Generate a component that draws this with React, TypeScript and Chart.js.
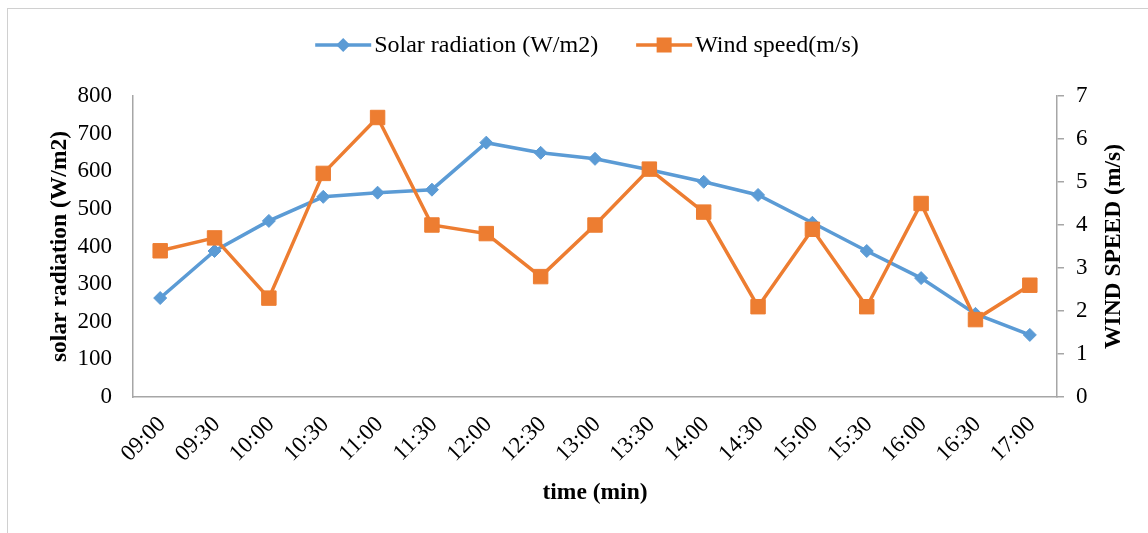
import { useEffect, useRef } from "react";
import { Chart, registerables } from "chart.js";

Chart.register(...registerables);

// Half-hourly readings
const times = [
  "09:00", "09:30", "10:00", "10:30", "11:00", "11:30", "12:00", "12:30", "13:00",
  "13:30", "14:00", "14:30", "15:00", "15:30", "16:00", "16:30", "17:00",
];
const solarRadiation = [263, 388, 468, 532, 543, 551, 676, 649, 633, 604, 572, 537, 463, 388, 316, 221, 165];
const windSpeed = [3.4, 3.7, 2.3, 5.2, 6.5, 4.0, 3.8, 2.8, 4.0, 5.3, 4.3, 2.1, 3.9, 2.1, 4.5, 1.8, 2.6];

// Axis ranges
const solarAxis = { min: 0, max: 800, step: 100 };
const windAxis = { min: 0, max: 7, step: 1 };

const labels = {
  solar: "Solar radiation (W/m2)",
  wind: "Wind speed(m/s)",
  leftTitle: "solar radiation (W/m2)",
  rightTitle: "WIND SPEED (m/s)",
  bottomTitle: "time (min)",
};

const BLUE = "#5B9BD5";
const ORANGE = "#ED7D31";
const AXIS_GREY = "#a6a6a6";
const SERIF = "'Liberation Serif', 'Times New Roman', Times, serif";

const W = 1140;
const H = 524;

// Draws the legend and the three axis titles on top of the chart.
const overlayPlugin = {
  id: "overlay",
  afterDraw(chart: any) {
    const { ctx, chartArea: a } = chart;
    ctx.save();

    // Legend
    ctx.font = `24px ${SERIF}`;
    ctx.textBaseline = "middle";
    ctx.textAlign = "left";
    ctx.fillStyle = "#000";
    const ly = 36;
    const lineLen = 56;
    const gap = 3;
    const spacing = 38;
    const w1 = ctx.measureText(labels.solar).width;
    const w2 = ctx.measureText(labels.wind).width;
    const total = lineLen + gap + w1 + spacing + lineLen + gap + w2;
    let x = 579 - total / 2;

    ctx.lineWidth = 3.5;
    ctx.strokeStyle = BLUE;
    ctx.beginPath();
    ctx.moveTo(x, ly);
    ctx.lineTo(x + lineLen, ly);
    ctx.stroke();
    const dx = x + lineLen / 2;
    ctx.fillStyle = BLUE;
    ctx.beginPath();
    ctx.moveTo(dx, ly - 7);
    ctx.lineTo(dx + 7, ly);
    ctx.lineTo(dx, ly + 7);
    ctx.lineTo(dx - 7, ly);
    ctx.closePath();
    ctx.fill();
    ctx.fillStyle = "#000";
    ctx.fillText(labels.solar, x + lineLen + gap, ly + 1);

    x = x + lineLen + gap + w1 + spacing;
    ctx.strokeStyle = ORANGE;
    ctx.beginPath();
    ctx.moveTo(x, ly);
    ctx.lineTo(x + lineLen, ly);
    ctx.stroke();
    const sx = x + lineLen / 2;
    ctx.fillStyle = ORANGE;
    ctx.fillRect(sx - 7.5, ly - 7.5, 15, 15);
    ctx.fillStyle = "#000";
    ctx.fillText(labels.wind, x + lineLen + gap, ly + 1);

    // Axis titles
    ctx.font = `bold 23.5px ${SERIF}`;
    ctx.textAlign = "center";
    const cy = (a.top + a.bottom) / 2;

    ctx.save();
    ctx.translate(52, cy);
    ctx.rotate(-Math.PI / 2);
    ctx.fillText(labels.leftTitle, 0, 0);
    ctx.restore();

    ctx.save();
    ctx.translate(1106, cy);
    ctx.rotate(-Math.PI / 2);
    ctx.fillText(labels.rightTitle, 0, 0);
    ctx.restore();

    ctx.fillText(labels.bottomTitle, (a.left + a.right) / 2, 484);

    ctx.restore();
  },
};

export default function App() {
  const canvasRef = useRef<HTMLCanvasElement | null>(null);

  useEffect(() => {
    const canvas = canvasRef.current;
    if (!canvas) return;

    const tickFont = { family: SERIF, size: 23 };

    const chart = new Chart(canvas, {
      type: "line",
      data: {
        labels: times,
        datasets: [
          {
            label: labels.solar,
            data: solarRadiation,
            yAxisID: "ySolar",
            borderColor: BLUE,
            backgroundColor: BLUE,
            borderWidth: 3.5,
            pointStyle: "rectRot",
            pointRadius: 6.5,
            pointBorderWidth: 1,
            pointBackgroundColor: BLUE,
            pointBorderColor: BLUE,
            tension: 0,
            order: 2,
          },
          {
            label: labels.wind,
            data: windSpeed,
            yAxisID: "yWind",
            borderColor: ORANGE,
            backgroundColor: ORANGE,
            borderWidth: 3.5,
            pointStyle: "rect",
            pointRadius: 10.2,
            pointBorderWidth: 1,
            pointBackgroundColor: ORANGE,
            pointBorderColor: ORANGE,
            tension: 0,
            order: 1,
          },
        ],
      },
      options: {
        responsive: false,
        animation: false,
        layout: { padding: { top: 87, left: 0, right: 0, bottom: 0 } },
        plugins: {
          legend: { display: false },
          tooltip: { enabled: false },
        },
        scales: {
          x: {
            offset: true,
            grid: { display: false, drawTicks: false },
            border: { display: true, color: AXIS_GREY, width: 1.5 },
            ticks: {
              font: tickFont,
              color: "#000",
              minRotation: 45,
              maxRotation: 45,
              padding: 14,
              labelOffset: 2,
              autoSkip: false,
            },
            afterFit: (s: any) => {
              s.height = 136;
            },
          },
          ySolar: {
            position: "left",
            min: solarAxis.min,
            max: solarAxis.max,
            grid: { display: false, drawTicks: false },
            border: { display: true, color: AXIS_GREY, width: 1.5 },
            ticks: {
              stepSize: solarAxis.step,
              font: tickFont,
              color: "#000",
              padding: 21,
            },
            afterFit: (s: any) => {
              s.width = 125;
            },
          },
          yWind: {
            position: "right",
            min: windAxis.min,
            max: windAxis.max,
            grid: {
              display: true,
              drawOnChartArea: false,
              drawTicks: true,
              tickLength: 7,
              color: AXIS_GREY,
              lineWidth: 1.5,
            },
            border: { display: true, color: AXIS_GREY, width: 1.5 },
            ticks: {
              stepSize: windAxis.step,
              font: tickFont,
              color: "#000",
              padding: 12,
            },
            afterFit: (s: any) => {
              s.width = 91;
            },
          },
        },
      },
      plugins: [overlayPlugin],
    });

    return () => chart.destroy();
  }, []);

  return (
    <div
      style={{
        position: "fixed",
        left: 7,
        top: 8,
        width: W + 1,
        height: H + 1,
        boxSizing: "border-box",
        borderLeft: "1px solid #d0d0d0",
        borderTop: "1px solid #d0d0d0",
        background: "#fff",
      }}
    >
      <canvas ref={canvasRef} width={W} height={H} style={{ display: "block" }} />
    </div>
  );
}
